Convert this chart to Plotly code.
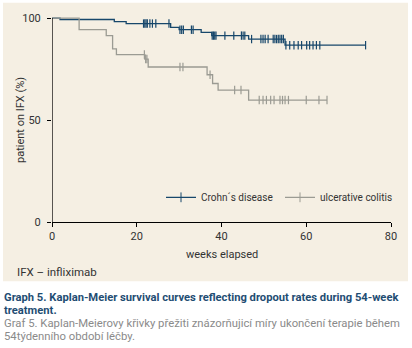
import plotly.graph_objects as go

# ---- data ----
crohn_time = [0, 1.9, 14.7, 17.5, 28.0, 30.0, 35.2, 37.7, 46.4, 55.0, 74.0]
crohn_surv = [100, 99.3, 98.3, 97.3, 95.4, 94.3, 93.0, 91.4, 89.7, 86.7, 86.7]
crohn_censor = [21.6, 21.9, 22.2, 22.5, 23.1, 23.7, 24.5, 27.6, 30.2, 30.6, 31.0,
                32.9, 33.3, 37.8, 38.1, 38.4, 38.7, 40.8, 42.9, 44.7, 45.1, 45.5,
                47.1, 49.3, 49.8, 50.3, 51.0, 52.2, 52.6, 53.0, 53.4, 53.8, 54.2,
                54.6, 55.2, 56.1, 57.1, 58.1, 58.9, 60.1, 60.8, 61.6, 62.4, 63.2, 74.0]

uc_time = [0, 6.4, 12.8, 14.3, 15.2, 21.9, 22.7, 36.6, 37.9, 39.2, 46.4, 64.9]
uc_surv = [100, 94.3, 91.4, 84.9, 82.1, 79.9, 76.0, 72.2, 67.9, 64.7, 59.8, 59.8]
uc_censor = [21.8, 22.1, 22.4, 30.2, 30.9, 37.3, 43.1, 44.6, 48.9, 49.8, 50.6, 51.6,
             52.4, 53.8, 54.4, 55.0, 55.8, 60.0, 63.0, 64.9]

x_ticks = [0, 20, 40, 60, 80]
y_ticks = [0, 50, 100]
series_names = ["Crohn´s disease", "ulcerative colitis"]


def level_at(times, surv, t):
    val = surv[0]
    for ti, si in zip(times, surv):
        if ti <= t:
            val = si
    return val


CROHN_COLOR = "#17476b"
UC_COLOR = "#9b9b93"
BEIGE = "#f5efe3"
FONT = "Roboto, sans-serif"
TXT = "#333333"

L, R, T, B = 52, 21, 12.4, 126
W, H = 412, 348
pw, ph = W - L - R, H - T - B


def px_x(px):
    return (px - L) / pw


def px_y(py):
    return (H - B - py) / ph


fig = go.Figure()

for times, surv, cens, color, name, lg in [
    (crohn_time, crohn_surv, crohn_censor, CROHN_COLOR, series_names[0], "legend"),
    (uc_time, uc_surv, uc_censor, UC_COLOR, series_names[1], "legend2"),
]:
    fig.add_trace(go.Scatter(x=times, y=surv, mode="lines",
                             line=dict(color=color, width=1.3, shape="hv"),
                             showlegend=False, hoverinfo="skip"))
    fig.add_trace(go.Scatter(x=cens, y=[level_at(times, surv, t) for t in cens],
                             mode="markers",
                             marker=dict(symbol="line-ns", size=6,
                                         line=dict(color=color, width=1.2)),
                             showlegend=False, hoverinfo="skip"))
    fig.add_trace(go.Scatter(x=[None], y=[None], mode="lines+markers", name=name,
                             legend=lg,
                             line=dict(color=color, width=1.3),
                             marker=dict(symbol="line-ns", size=7,
                                         line=dict(color=color, width=1))))

fig.add_shape(type="rect", xref="paper", yref="paper",
              x0=px_x(3), x1=px_x(408), y0=px_y(282), y1=px_y(0),
              fillcolor=BEIGE, line=dict(width=0), layer="below")
fig.add_shape(type="line", xref="x", yref="y", x0=0, x1=0, y0=0, y1=100,
              line=dict(color="black", width=1.3))

CAP_BLUE = "#1f4d73"
CAP_GRAY = "#8a8a8a"
ann = [
    dict(text="patient on IFX (%)", x=px_x(21), y=px_y(118.7), textangle=-90,
         xanchor="center", yanchor="middle", font=dict(size=11, color=TXT)),
    dict(text="weeks elapsed", x=0.5, y=px_y(255), xanchor="center", yanchor="middle",
         font=dict(size=11, color=TXT)),
    dict(text="IFX – infliximab", x=px_x(16), y=px_y(273), xanchor="left",
         yanchor="middle", font=dict(size=11.5, color=TXT)),
    dict(text="<b>Graph 5. Kaplan-Meier survival curves reflecting dropout rates during 54-week</b>",
         x=px_x(3), y=px_y(298), xanchor="left", yanchor="middle",
         font=dict(size=11.2, color=CAP_BLUE)),
    dict(text="<b>treatment.</b>", x=px_x(3), y=px_y(311.5), xanchor="left",
         yanchor="middle", font=dict(size=11.2, color=CAP_BLUE)),
    dict(text="Graf 5. Kaplan-Meierovy křivky přežiti znázorňujicí míry ukončení terapie během",
         x=px_x(3), y=px_y(325), xanchor="left", yanchor="middle",
         font=dict(size=11.3, color=CAP_GRAY)),
    dict(text="54týdenního období léčby.", x=px_x(3), y=px_y(338), xanchor="left",
         yanchor="middle", font=dict(size=11.3, color=CAP_GRAY)),
]
for a in ann:
    a.update(xref="paper", yref="paper", showarrow=False, borderpad=0)

legend_common = dict(orientation="h", yanchor="middle", xanchor="left",
                     bgcolor="rgba(0,0,0,0)", font=dict(size=10, color=TXT),
                     itemwidth=30)

fig.update_layout(
    width=W, height=H,
    margin=dict(l=L, r=R, t=T, b=B),
    paper_bgcolor="white", plot_bgcolor="rgba(0,0,0,0)",
    font=dict(family=FONT, size=11, color=TXT),
    annotations=ann,
    legend=dict(x=px_x(161), y=px_y(197), **legend_common),
    legend2=dict(x=px_x(280), y=px_y(197), **legend_common),
    xaxis=dict(range=[0, 80], tickvals=x_ticks, ticks="outside", ticklen=4,
               tickcolor="black", showline=True, linecolor="black", linewidth=1.3,
               showgrid=False, zeroline=False, tickfont=dict(size=11, color=TXT)),
    yaxis=dict(range=[0, 101.5], tickvals=y_ticks, ticks="outside", ticklen=4,
               tickcolor="black", showline=False, showgrid=False, zeroline=False,
               ticklabelstandoff=4, tickfont=dict(size=11, color=TXT)),
)

fig.write_html("out.html")
